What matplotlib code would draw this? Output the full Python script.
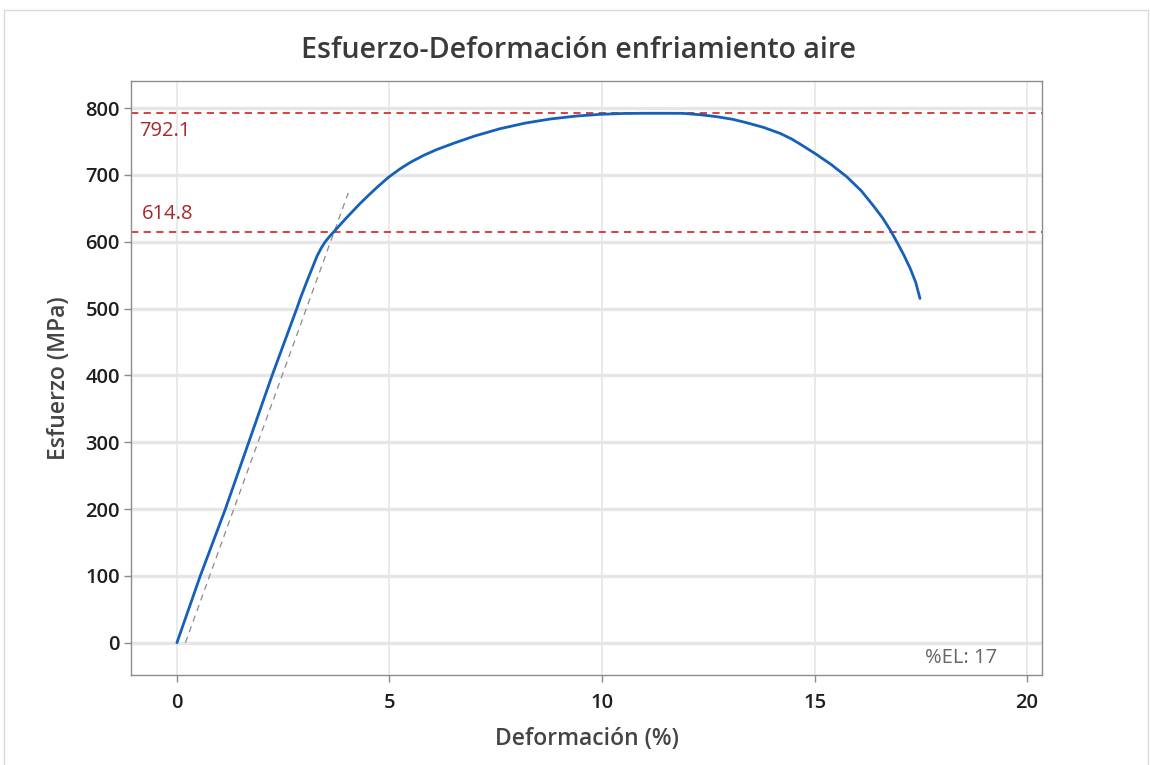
import matplotlib
matplotlib.use("Agg")
import matplotlib.pyplot as plt
from matplotlib.patches import Rectangle

plt.rcParams['font.family'] = ['Open Sans', 'DejaVu Sans']

# Stress-strain data (air cooled specimen)
strain = [0, 0.55, 1.14, 1.69, 2.24, 2.82, 2.92, 3.06, 3.18, 3.3, 3.4,
          3.49, 3.6, 3.71, 3.8, 3.9, 4.0, 4.12, 4.3, 4.5, 4.72, 4.98,
          5.25, 5.5, 5.8, 6.1, 6.5, 7.0, 7.6, 8.2, 8.78, 9.4, 9.95, 10.5,
          11.0, 11.5, 11.9, 12.3, 12.7, 13.08, 13.4, 13.8, 14.19, 14.45,
          14.66, 15.01, 15.4, 15.76, 16.1, 16.38, 16.6, 16.78, 16.95, 17.1,
          17.25, 17.38, 17.48]
stress = [0, 100, 200, 300, 400, 500, 518, 541, 560, 579, 591,
          600, 608.5, 616, 622.5, 629.5, 636.5, 644.5, 656.5, 669, 682, 696.5,
          709, 719, 729, 737.5, 747, 758, 769, 777.5, 783.5, 788, 790.5, 791.8,
          792.1, 792.1, 792, 790, 787, 783, 778, 771, 762, 754,
          746, 732, 715, 697, 676, 654, 635.5, 617.5, 598, 580,
          560, 539, 515]

# 0.2 % offset line
offset_x = [0.2, 4.03]
offset_y = [0, 673]

uts = 792.1
yield_strength = 614.8
elongation = 17

xticks = [0, 5, 10, 15, 20]
yticks = [0, 100, 200, 300, 400, 500, 600, 700, 800]

fig = plt.figure(figsize=(11.5, 7.65), dpi=100)
fig.patches.append(Rectangle((4 / 1150, -0.01), 1144 / 1150, 1 - 10 / 765 + 0.01,
                             transform=fig.transFigure, fill=False,
                             edgecolor='#d9d9d9', linewidth=1.0))

ax = fig.add_axes([131 / 1150, 1 - 675 / 765, (1042 - 131) / 1150, (675 - 81) / 765])
ax.set_xlim(-1.08, 20.35)
ax.set_ylim(-48.3, 840.4)

ax.set_xticks(xticks)
ax.set_yticks(yticks)
for y in yticks:
    ax.axhline(y, color='#e6e6e6', linewidth=2.4, zorder=0)
for x in xticks:
    ax.axvline(x, color='#e6e6e6', linewidth=1.2, zorder=0)

for s in ax.spines.values():
    s.set_color('#8c8c8c')
    s.set_linewidth(1.0)

ax.tick_params(axis='both', colors='#8c8c8c', length=5, width=1.0,
               labelcolor='#1e1e1e', labelsize=14.5)
ax.tick_params(axis='y', pad=3)
ax.tick_params(axis='x', pad=8)
for lab in ax.get_xticklabels() + ax.get_yticklabels():
    lab.set_fontweight('semibold')

ax.axhline(uts, color='#d93030', linestyle=(0, (4, 3)), linewidth=1.3, zorder=2)
ax.axhline(yield_strength, color='#d93030', linestyle=(0, (4, 3)), linewidth=1.3, zorder=2)

ax.plot(offset_x, offset_y, color='#8a8a8a', linestyle=(0, (5, 4)), linewidth=0.9, zorder=3)
ax.plot(strain, stress, color='#1560b8', linewidth=2.0, zorder=4,
        solid_capstyle='round', solid_joinstyle='round')

ax.text(-0.89, 765.5, f"{uts}", color='#a8282a', fontsize=14.5, va='center', ha='left')
ax.text(-0.82, 641, f"{yield_strength}", color='#a8282a', fontsize=14.5, va='center', ha='left')
ax.text(19.3, -23, f"%EL: {elongation}", color='#666666', fontsize=14.5, va='center', ha='right')

ax.set_xlabel("Deformación (%)", fontsize=16.5, fontweight='semibold', color='#444444', labelpad=10)
ax.set_ylabel("Esfuerzo (MPa)", fontsize=16.5, fontweight='semibold', color='#444444', labelpad=10)
fig.suptitle("Esfuerzo-Deformación enfriamiento aire", fontsize=20.6, fontweight='semibold',
             color='#3a3a3a', x=578.5 / 1150, y=1 - 36 / 765, va='top')

fig.savefig("out.png", dpi=100)
